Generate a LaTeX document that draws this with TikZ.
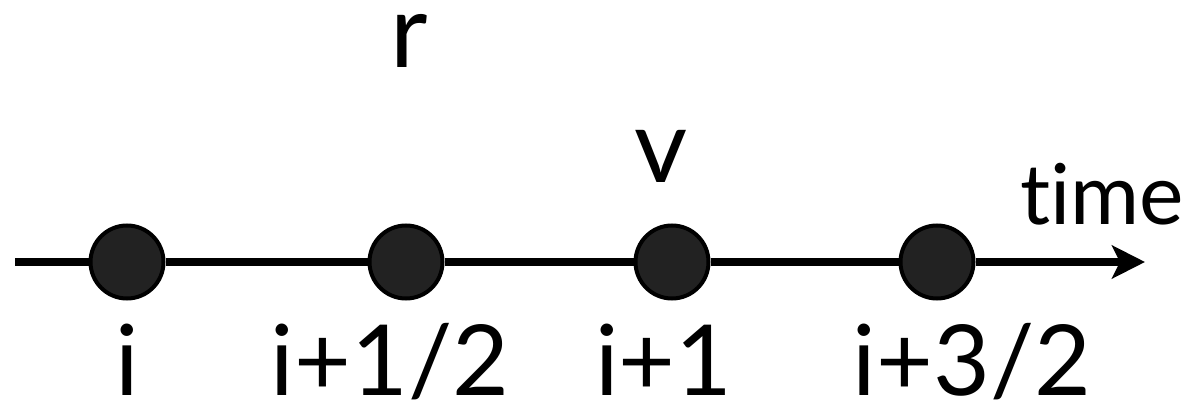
\documentclass[tikz,border=0pt]{standalone}
\usepackage{fontspec}
\setmainfont{Lato}[Ligatures=NoCommon]
\usetikzlibrary{arrows.meta, positioning}
\definecolor{dotfill}{HTML}{222222}
\definecolor{darkline}{HTML}{000000}
\tikzset{
  instant/.style={circle, draw=darkline, fill=dotfill, line width=4pt,
                  minimum size=73pt, inner sep=0pt},
  axis/.style={-{Stealth[length=33pt, width=33pt, inset=8pt]}, line width=8pt, draw=darkline},
  ticklabel/.style={anchor=base, inner sep=0pt, font=\fontsize{98}{98}\selectfont},
  varlabel/.style={anchor=base, inner sep=0pt, font=\fontsize{103}{103}\selectfont},
  axislabel/.style={anchor=base west, inner sep=0pt, font=\fontsize{84}{84}\selectfont},
}

\begin{document}
\begin{tikzpicture}[x=1pt, y=1pt]
\useasboundingbox (0,0) rectangle (1197,402);

% Time axis ends
\coordinate (start) at (15,140);
\coordinate (tipend) at (1145,140);

% Instants on the axis
\node[instant] (p0) at (127,140) {};
\node[instant] (p1) at (406,140) {};
\node[instant] (p2) at (672,140) {};
\node[instant] (p3) at (937,140) {};

% Axis
\draw[axis] (start) -- (p0) (p0) -- (p1) (p1) -- (p2) (p2) -- (p3) (p3) -- (tipend);

% Tick labels
\node[ticklabel] (l0) at (127,7) {i};
\node[ticklabel] (l1) at (390,7) {i+1/2};
\node[ticklabel] (l2) at (664,7) {i+1};
\node[ticklabel] (l3) at (972,7) {i+3/2};

% Variables and axis name
\node[varlabel] (rlab) at (409,334) {r};
\node[varlabel] (vlab) at (661,219) {v};
\node[axislabel] (tlab) at (1020,177) {time};

\end{tikzpicture}
\end{document}
